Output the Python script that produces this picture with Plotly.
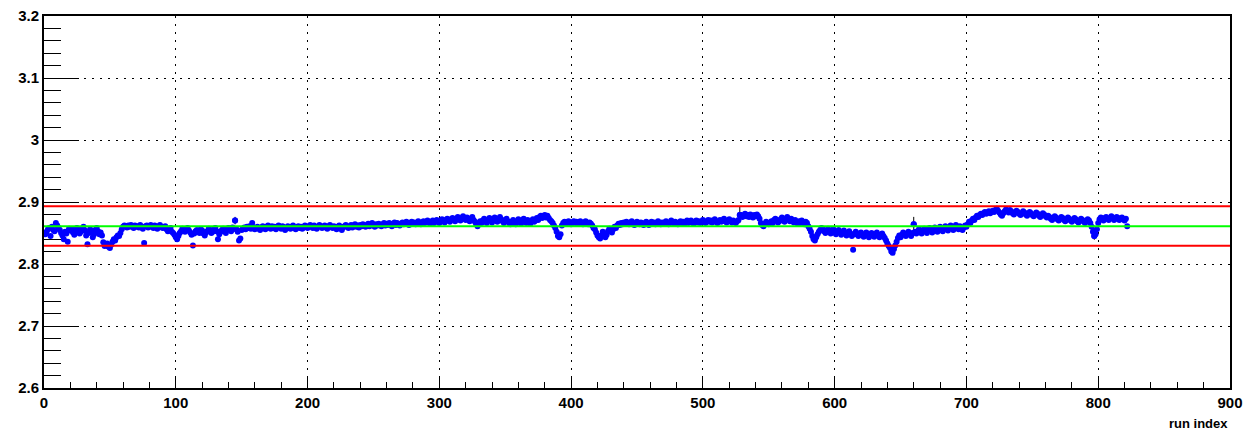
import plotly.graph_objects as go

# mean and +-band drawn as horizontal lines
mean_val = 2.861
band_hi = 2.893
band_lo = 2.8295

# one value per run, runs 1..822
vals = [
    2.848, 2.852, 2.856, 2.858, 2.845, 2.860, 2.855, 2.853, 2.866, 2.862,
    2.858, 2.855, 2.850, 2.846, 2.840, 2.852, 2.849, 2.836, 2.857, 2.854,
    2.856, 2.851, 2.847, 2.853, 2.858, 2.855, 2.849, 2.852, 2.857, 2.860,
    2.854, 2.846, 2.832, 2.850, 2.856, 2.852, 2.843, 2.848, 2.855, 2.858,
    2.853, 2.848, 2.851, 2.846, 2.835, 2.829, 2.830, 2.833, 2.828, 2.826,
    2.831, 2.836, 2.840, 2.838, 2.843, 2.846, 2.845, 2.850, 2.856, 2.860,
    2.862, 2.861, 2.859, 2.862, 2.860, 2.863, 2.861, 2.858, 2.862, 2.860,
    2.861, 2.859, 2.863, 2.860, 2.857, 2.834, 2.861, 2.862, 2.859, 2.860,
    2.863, 2.861, 2.858, 2.862, 2.860, 2.857, 2.861, 2.863, 2.860, 2.858,
    2.859, 2.861, 2.856, 2.853, 2.855, 2.858, 2.852, 2.850, 2.847, 2.843,
    2.840, 2.845, 2.850, 2.853, 2.857, 2.855, 2.852, 2.856, 2.858, 2.854,
    2.851, 2.847, 2.830, 2.849, 2.853, 2.855, 2.852, 2.850, 2.856, 2.854,
    2.849, 2.846, 2.851, 2.853, 2.857, 2.855, 2.850, 2.852, 2.856, 2.858,
    2.853, 2.840, 2.848, 2.852, 2.855, 2.857, 2.854, 2.850, 2.856, 2.858,
    2.855, 2.853, 2.859, 2.857, 2.870, 2.856, 2.852, 2.838, 2.841, 2.855,
    2.857, 2.859, 2.856, 2.860, 2.858, 2.861, 2.857, 2.866, 2.859, 2.856,
    2.858, 2.860, 2.857, 2.855, 2.859, 2.861, 2.858, 2.856, 2.860, 2.862,
    2.859, 2.857, 2.861, 2.858, 2.860, 2.856, 2.859, 2.862, 2.860, 2.857,
    2.861, 2.859, 2.855, 2.858, 2.861, 2.859, 2.857, 2.860, 2.862, 2.858,
    2.856, 2.859, 2.861, 2.858, 2.860, 2.857, 2.859, 2.862, 2.860, 2.858,
    2.861, 2.863, 2.860, 2.858, 2.862, 2.859, 2.857, 2.860, 2.863, 2.861,
    2.858, 2.860, 2.862, 2.859, 2.857, 2.861, 2.863, 2.860, 2.858, 2.861,
    2.859, 2.856, 2.860, 2.862, 2.858, 2.855, 2.859, 2.861, 2.863, 2.860,
    2.858, 2.861, 2.863, 2.859, 2.862, 2.864, 2.860, 2.862, 2.859, 2.863,
    2.861, 2.864, 2.862, 2.860, 2.863, 2.865, 2.861, 2.863, 2.866, 2.862,
    2.860, 2.864, 2.862, 2.865, 2.863, 2.861, 2.864, 2.866, 2.862, 2.865,
    2.863, 2.866, 2.864, 2.861, 2.865, 2.867, 2.863, 2.866, 2.864, 2.862,
    2.865, 2.867, 2.864, 2.866, 2.868, 2.865, 2.863, 2.866, 2.868, 2.865,
    2.867, 2.864, 2.866, 2.869, 2.866, 2.864, 2.867, 2.869, 2.866, 2.868,
    2.870, 2.867, 2.865, 2.868, 2.870, 2.866, 2.869, 2.871, 2.868, 2.866,
    2.869, 2.872, 2.870, 2.867, 2.871, 2.873, 2.870, 2.868, 2.872, 2.874,
    2.871, 2.869, 2.873, 2.876, 2.872, 2.870, 2.874, 2.877, 2.873, 2.871,
    2.875, 2.872, 2.869, 2.873, 2.876, 2.871, 2.868, 2.864, 2.861, 2.866,
    2.869, 2.866, 2.870, 2.873, 2.869, 2.866, 2.871, 2.874, 2.870, 2.867,
    2.872, 2.875, 2.871, 2.868, 2.873, 2.876, 2.872, 2.869, 2.866, 2.870,
    2.873, 2.869, 2.866, 2.864, 2.868, 2.871, 2.867, 2.864, 2.869, 2.872,
    2.868, 2.865, 2.870, 2.873, 2.869, 2.866, 2.871, 2.868, 2.865, 2.869,
    2.872, 2.868, 2.870, 2.874, 2.871, 2.876, 2.878, 2.874, 2.877, 2.879,
    2.875, 2.878, 2.874, 2.871, 2.869, 2.866, 2.862, 2.858, 2.852, 2.845,
    2.843, 2.848, 2.862, 2.866, 2.868, 2.865, 2.867, 2.869, 2.866, 2.864,
    2.867, 2.869, 2.866, 2.868, 2.865, 2.867, 2.869, 2.866, 2.864, 2.867,
    2.869, 2.866, 2.864, 2.867, 2.865, 2.862, 2.858, 2.856, 2.851, 2.846,
    2.843, 2.841, 2.846, 2.852, 2.848, 2.843, 2.847, 2.853, 2.857, 2.855,
    2.851, 2.856, 2.860, 2.858, 2.862, 2.865, 2.863, 2.866, 2.864, 2.867,
    2.865, 2.868, 2.866, 2.864, 2.867, 2.869, 2.865, 2.863, 2.866, 2.868,
    2.866, 2.864, 2.867, 2.865, 2.863, 2.866, 2.868, 2.865, 2.863, 2.866,
    2.868, 2.865, 2.867, 2.864, 2.866, 2.869, 2.866, 2.864, 2.867, 2.865,
    2.867, 2.869, 2.866, 2.864, 2.867, 2.870, 2.867, 2.865, 2.868, 2.866,
    2.864, 2.867, 2.869, 2.866, 2.868, 2.865, 2.867, 2.870, 2.866, 2.868,
    2.870, 2.867, 2.865, 2.868, 2.870, 2.867, 2.869, 2.866, 2.868, 2.871,
    2.868, 2.866, 2.869, 2.871, 2.868, 2.870, 2.867, 2.869, 2.872, 2.868,
    2.866, 2.869, 2.871, 2.868, 2.870, 2.873, 2.869, 2.867, 2.870, 2.872,
    2.869, 2.867, 2.870, 2.868, 2.866, 2.869, 2.871, 2.879, 2.879, 2.876,
    2.878, 2.881, 2.877, 2.879, 2.876, 2.880, 2.878, 2.875, 2.879, 2.877,
    2.880, 2.877, 2.873, 2.866, 2.863, 2.861, 2.865, 2.868, 2.866, 2.864,
    2.867, 2.869, 2.866, 2.871, 2.873, 2.870, 2.867, 2.869, 2.872, 2.875,
    2.871, 2.868, 2.873, 2.876, 2.872, 2.869, 2.873, 2.870, 2.867, 2.871,
    2.868, 2.865, 2.869, 2.866, 2.870, 2.867, 2.864, 2.868, 2.866, 2.861,
    2.857, 2.852, 2.845, 2.840, 2.838, 2.843, 2.848, 2.852, 2.855, 2.858,
    2.856, 2.853, 2.850, 2.854, 2.857, 2.852, 2.849, 2.853, 2.856, 2.851,
    2.848, 2.852, 2.855, 2.851, 2.847, 2.850, 2.854, 2.850, 2.846, 2.849,
    2.853, 2.849, 2.845, 2.823, 2.848, 2.852, 2.849, 2.845, 2.848, 2.851,
    2.847, 2.844, 2.848, 2.851, 2.847, 2.843, 2.846, 2.850, 2.847, 2.844,
    2.848, 2.851, 2.847, 2.843, 2.846, 2.849, 2.845, 2.842, 2.838, 2.833,
    2.829, 2.826, 2.820, 2.818, 2.824, 2.830, 2.836, 2.842, 2.846, 2.843,
    2.847, 2.851, 2.848, 2.845, 2.849, 2.852, 2.848, 2.845, 2.850, 2.864,
    2.852, 2.849, 2.853, 2.856, 2.852, 2.849, 2.854, 2.857, 2.853, 2.850,
    2.855, 2.858, 2.854, 2.851, 2.856, 2.859, 2.855, 2.852, 2.857, 2.860,
    2.856, 2.853, 2.858, 2.861, 2.857, 2.854, 2.859, 2.862, 2.858, 2.855,
    2.860, 2.863, 2.859, 2.856, 2.861, 2.858, 2.855, 2.859, 2.862, 2.860,
    2.864, 2.868, 2.866, 2.870, 2.873, 2.871, 2.875, 2.878, 2.876, 2.879,
    2.881, 2.879, 2.882, 2.884, 2.881, 2.883, 2.885, 2.882, 2.884, 2.886,
    2.884, 2.887, 2.889, 2.886, 2.883, 2.880, 2.878, 2.882, 2.885, 2.888,
    2.886, 2.883, 2.887, 2.885, 2.882, 2.880, 2.883, 2.886, 2.884, 2.881,
    2.879, 2.882, 2.885, 2.883, 2.880, 2.878, 2.881, 2.884, 2.882, 2.879,
    2.877, 2.880, 2.883, 2.881, 2.878, 2.876, 2.879, 2.882, 2.880, 2.877,
    2.875, 2.878, 2.876, 2.873, 2.871, 2.874, 2.877, 2.875, 2.872, 2.870,
    2.873, 2.876, 2.874, 2.871, 2.869, 2.872, 2.875, 2.873, 2.870, 2.868,
    2.871, 2.874, 2.872, 2.869, 2.867, 2.870, 2.873, 2.871, 2.868, 2.866,
    2.869, 2.872, 2.870, 2.866, 2.860, 2.852, 2.845, 2.848, 2.856, 2.866,
    2.872, 2.875, 2.873, 2.870, 2.874, 2.876, 2.873, 2.871, 2.874, 2.877,
    2.874, 2.871, 2.873, 2.876, 2.874, 2.871, 2.873, 2.875, 2.872, 2.870,
    2.873, 2.861,
]
runs = list(range(1, len(vals) + 1))

# the few runs whose error bar is longer than the marker
err_runs = [145, 528, 660, 797]
err_size = [0.006, 0.013, 0.012, 0.006]

x_ticks = [0, 100, 200, 300, 400, 500, 600, 700, 800, 900]
y_ticks = [2.6, 2.7, 2.8, 2.9, 3.0, 3.1, 3.2]
y_labels = ["2.6", "2.7", "2.8", "2.9", "3", "3.1", "3.2"]

FONT = "Liberation Sans, Arial, sans-serif"

fig = go.Figure()

fig.add_trace(go.Scatter(
    x=[r for r in err_runs], y=[vals[r - 1] for r in err_runs],
    mode="markers",
    marker=dict(color="#0000ff", size=6),
    error_y=dict(type="data", array=err_size, color="black", thickness=1, width=0),
    showlegend=False,
))
fig.add_trace(go.Scatter(
    x=runs, y=vals, mode="markers",
    marker=dict(color="#0000ff", size=6, line=dict(width=0)),
    showlegend=False,
))

fig.add_hline(y=band_hi, line=dict(color="#ff0000", width=2), layer="above")
fig.add_hline(y=band_lo, line=dict(color="#ff0000", width=2), layer="above")
fig.add_hline(y=mean_val, line=dict(color="#00ff00", width=2), layer="above")

fig.add_annotation(
    text="<b>run index</b>", xref="paper", yref="paper", x=1, y=0,
    xanchor="right", yanchor="middle", yshift=-35, showarrow=False,
    font=dict(family=FONT, size=13, color="black"),
)

fig.update_xaxes(
    range=[0, 900], tickvals=x_ticks, ticktext=[f"<b>{t}</b>" for t in x_ticks],
    showline=True, linecolor="black", linewidth=2, mirror=True,
    ticks="inside", ticklen=11, tickwidth=1, tickcolor="black",
    minor=dict(dtick=20, tick0=0, ticks="inside", ticklen=6, tickcolor="black", showgrid=False),
    showgrid=True, gridcolor="black", gridwidth=1, griddash="2px,6px",
    zeroline=False, automargin=False,
    tickfont=dict(family=FONT, size=15, color="black"),
)
fig.update_yaxes(
    range=[2.6, 3.2], tickvals=y_ticks, ticktext=[f"<b>{t}</b>" for t in y_labels],
    showline=True, linecolor="black", linewidth=2, mirror=True,
    ticks="inside", ticklen=35, tickwidth=1, tickcolor="black",
    minor=dict(dtick=0.02, tick0=2.6, ticks="inside", ticklen=17, tickcolor="black", showgrid=False),
    showgrid=True, gridcolor="black", gridwidth=1, griddash="2px,6px",
    zeroline=False, automargin=False,
    tickfont=dict(family=FONT, size=15, color="black"),
)

fig.update_layout(
    width=1247, height=437,
    margin=dict(l=44, r=17, t=16, b=49),
    plot_bgcolor="white", paper_bgcolor="white",
    font=dict(family=FONT),
)

# drop the default page margin so the figure fills the window exactly
fig.write_html(
    "out.html",
    config={"displayModeBar": False},
    post_script="document.body.style.margin='0';document.body.style.overflow='hidden';",
)
